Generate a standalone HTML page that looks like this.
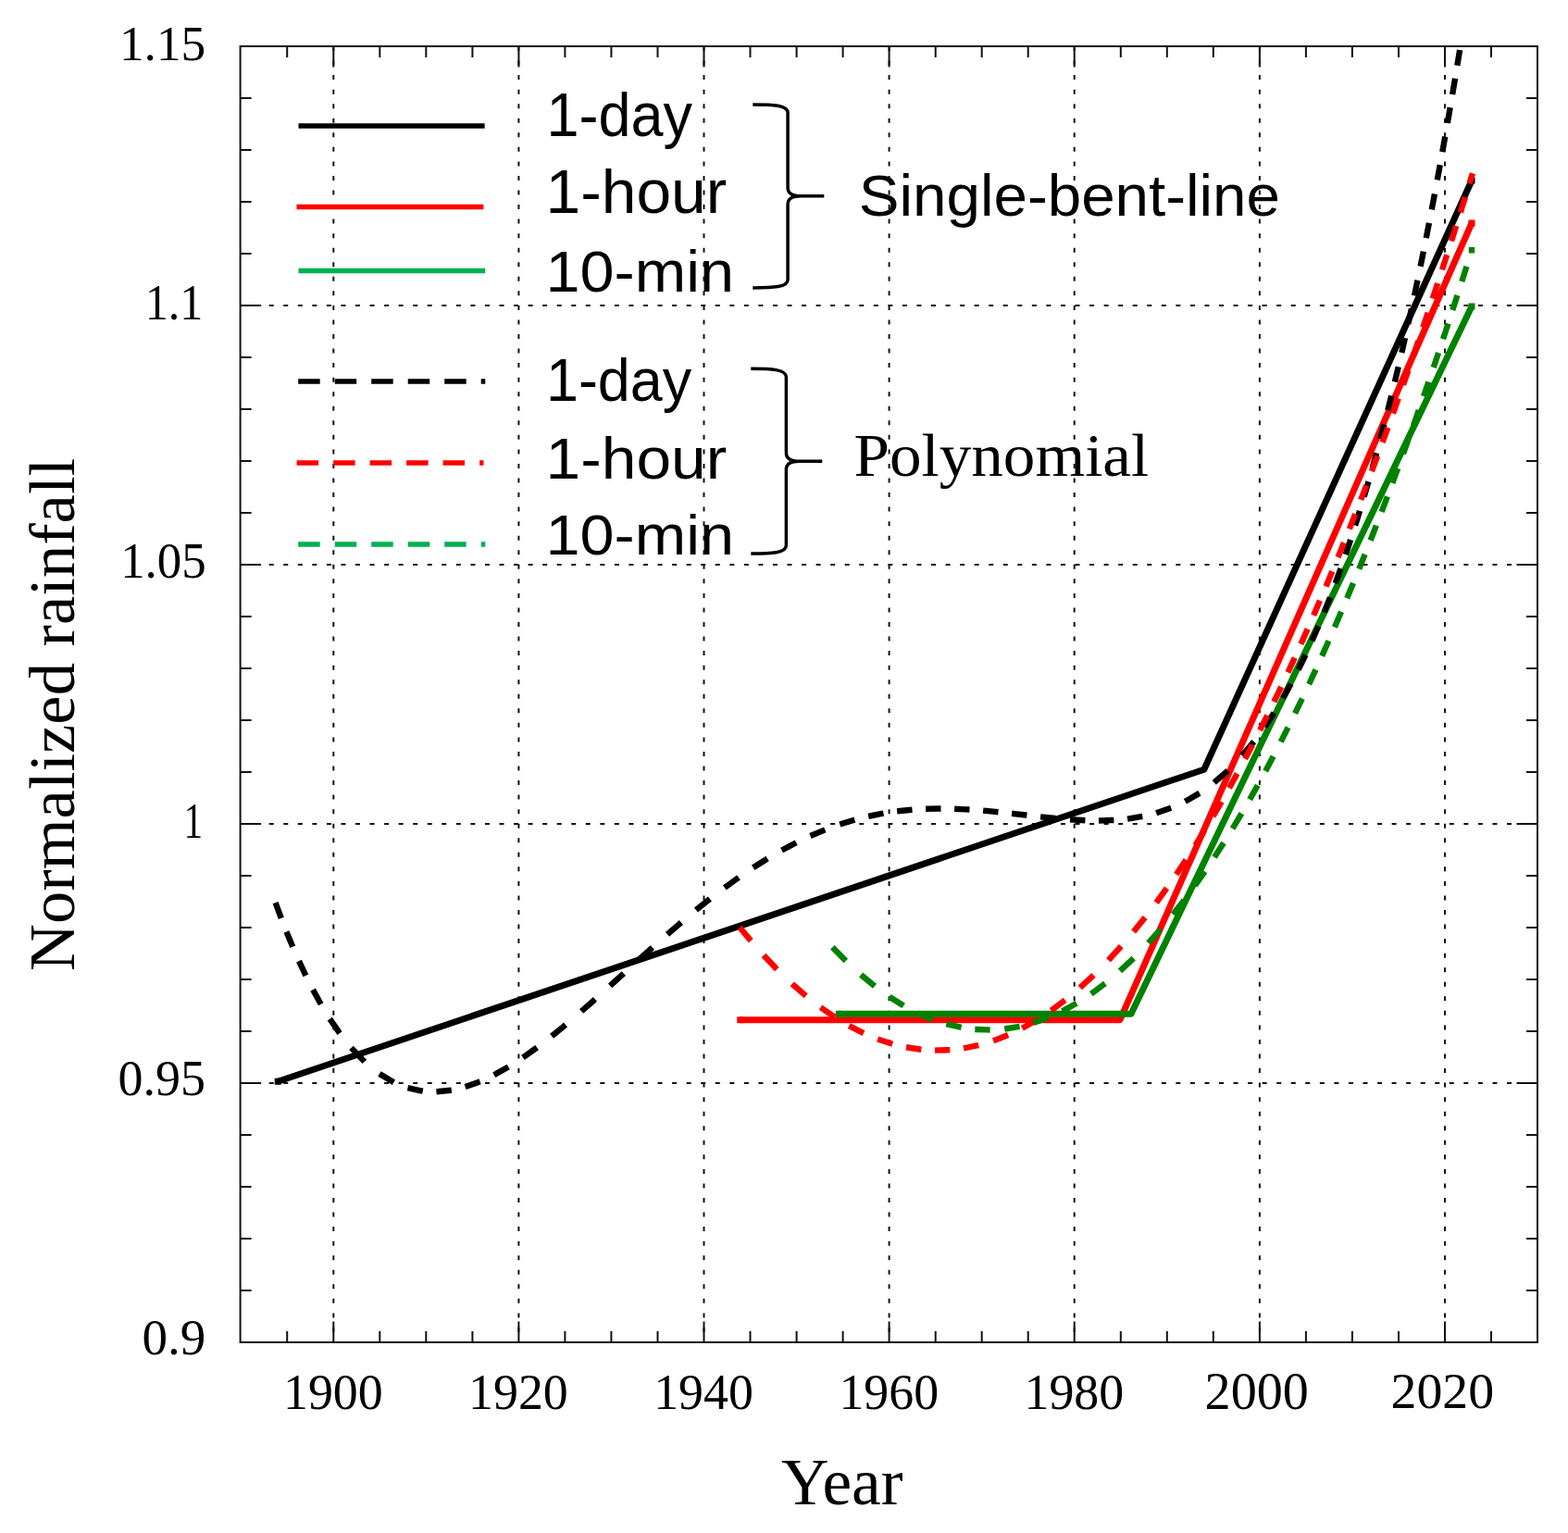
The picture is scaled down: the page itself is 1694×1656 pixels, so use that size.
<!DOCTYPE html><html><head><meta charset="utf-8"><style>html,body{margin:0;padding:0;background:#fff;overflow:hidden}svg{display:block}</style></head><body>
<svg width="1694" height="1656" viewBox="0 0 1694 1656">
<rect width="1694" height="1656" fill="#fff"/>
<g>
<path d="M360.3 50.0V1450.0M560.4 50.0V1450.0M760.5 50.0V1450.0M960.6 50.0V1450.0M1160.7 50.0V1450.0M1360.9 50.0V1450.0M1561.0 50.0V1450.0M259.6 330.0H1661.0M259.6 610.0H1661.0M259.6 890.0H1661.0M259.6 1170.0H1661.0" stroke="#111" stroke-width="2" stroke-dasharray="5 10.55" fill="none"/>
<defs><clipPath id="pc"><rect x="259.6" y="50.0" width="1401.4" height="1400.0"/></clipPath></defs>
<g clip-path="url(#pc)">
<path d="M296.70 1164.80h7.0v7.0h-7.0ZM1586.50 191.50h7.0v7.0h-7.0Z" fill="#000"/>
<path d="M300.20 1168.30L1300.80 831.20L1590.00 195.00" fill="none" stroke="#000" stroke-width="7.0" stroke-linecap="butt" stroke-linejoin="round"/>
<path d="M796.30 1098.20h7.0v7.0h-7.0ZM1586.50 237.50h7.0v7.0h-7.0Z" fill="#ff0000"/>
<path d="M799.80 1101.70L1210.00 1101.70L1590.00 241.00" fill="none" stroke="#ff0000" stroke-width="7.0" stroke-linecap="butt" stroke-linejoin="round"/>
<path d="M902.80 1091.70h7.0v7.0h-7.0ZM1586.50 327.50h7.0v7.0h-7.0Z" fill="#008200"/>
<path d="M906.30 1095.20L1222.00 1095.20L1590.00 331.00" fill="none" stroke="#008200" stroke-width="7.0" stroke-linecap="butt" stroke-linejoin="round"/>
<path d="M298.70 978.24L302.70 988.99M310.69 1009.39L315.02 1019.86M324.35 1041.04L329.02 1050.95M339.68 1071.96L345.17 1081.92M358.17 1103.22L365.16 1113.43M381.65 1134.17L391.65 1144.60M412.64 1161.62L422.63 1167.56M443.62 1175.88L453.62 1178.01M474.60 1179.02L484.60 1177.99M505.59 1173.00L515.58 1169.41M536.57 1159.62L546.56 1154.01M567.55 1140.54L577.55 1133.42M598.54 1117.27L608.53 1109.11M630.52 1090.35L640.51 1081.54M661.50 1062.71L671.50 1053.66M692.48 1034.67L702.48 1025.70M723.47 1007.17L733.46 998.56M754.45 981.05L764.45 973.03M785.43 956.97L795.43 949.74M816.42 935.49L826.41 929.19M847.40 917.00L857.39 911.73M878.38 901.77L888.38 897.58M910.37 889.60L920.36 886.53M941.35 881.21L951.34 879.20M972.33 876.03L982.33 874.99M1003.32 873.74L1013.31 873.55M1034.30 873.91L1044.29 874.39M1065.28 875.95L1075.28 876.89M1096.26 879.15L1106.26 880.29M1127.25 882.64L1137.24 883.67M1159.23 885.50L1169.22 886.04M1190.21 886.37L1200.21 886.04M1221.20 884.07L1231.19 882.42M1252.18 877.19L1262.17 873.73M1283.16 864.15L1293.16 858.36M1314.15 843.27L1324.14 834.56M1344.13 813.85L1352.62 803.61M1368.12 782.57L1374.61 772.78M1387.61 751.37L1393.10 741.55M1404.10 720.48L1409.09 710.24M1418.75 689.26L1423.09 679.32M1431.75 658.43L1435.75 648.32M1443.74 627.17L1447.41 617.07M1454.74 596.04L1458.07 586.12M1465.06 564.53L1468.06 554.95M1474.56 533.53L1477.56 523.32M1483.55 502.31L1486.30 492.40M1492.05 471.10L1494.55 461.60M1500.04 440.16L1502.44 430.56M1507.64 409.29L1510.04 399.25M1515.04 377.85L1517.23 368.22M1522.03 346.78L1524.23 336.75M1528.63 316.29L1530.83 305.87M1535.22 284.62L1537.22 274.78M1541.35 254.09L1543.35 243.91M1547.35 223.19L1549.35 212.65M1553.35 191.23L1555.18 181.26M1558.84 161.00L1560.68 150.72M1564.34 129.85L1566.17 119.26M1569.67 98.76L1571.50 87.86M1574.86 67.64L1576.57 57.17M1580.00 35.95L1580.00 35.95" fill="none" stroke="#000" stroke-width="6.4" stroke-linecap="square" stroke-linejoin="round"/>
<path d="M801.20 1004.19L809.20 1013.86M827.19 1034.26L837.19 1044.78M858.19 1064.95L868.18 1073.65M889.18 1090.03L899.18 1096.93M920.17 1109.51L930.17 1114.61M951.16 1123.42L961.16 1126.71M982.15 1131.75L992.15 1133.25M1013.15 1134.53L1023.14 1134.25M1044.14 1131.78L1054.14 1129.71M1076.13 1123.13L1086.13 1119.23M1107.12 1109.16L1117.12 1103.48M1138.11 1089.70L1148.11 1082.25M1169.11 1064.75L1179.10 1055.53M1199.60 1034.86L1209.10 1024.47M1226.59 1004.00L1235.09 993.43M1251.09 972.42L1258.58 962.08M1272.58 941.92L1279.58 931.42M1293.08 910.40L1299.57 899.91M1312.07 879.08L1318.07 868.77M1329.57 848.43L1335.06 838.45M1346.56 817.01L1351.56 807.47M1362.56 785.97L1367.72 775.63M1377.72 755.21L1382.72 744.79M1392.72 723.53L1397.38 713.41M1406.71 692.82L1411.38 682.35M1420.38 661.80L1424.71 651.74M1433.71 630.52L1438.04 620.15M1446.70 599.08L1450.70 589.21M1459.03 568.38L1463.03 558.24M1471.36 536.83L1475.03 527.29M1483.03 506.21L1487.03 495.54M1494.69 474.84L1498.36 464.83M1506.02 443.65L1509.69 433.40M1517.02 412.69L1520.35 403.17M1527.68 382.03L1531.35 371.34M1538.35 350.74L1541.68 340.83M1548.76 319.58L1552.26 308.98M1559.01 288.34L1562.26 278.31M1569.01 257.30L1572.25 247.09M1578.75 226.50L1582.00 216.12M1588.50 195.18L1590.00 190.32" fill="none" stroke="#ff0000" stroke-width="6.4" stroke-linecap="square" stroke-linejoin="round"/>
<path d="M901.60 1025.58L911.59 1035.76M932.57 1055.07L942.56 1063.28M963.55 1078.45L973.54 1084.68M994.52 1095.72L1004.51 1099.99M1025.49 1106.91L1035.48 1109.23M1056.47 1112.05L1066.46 1112.42M1088.44 1111.01L1098.43 1109.38M1119.41 1103.90L1129.40 1100.32M1150.38 1090.79L1160.37 1085.28M1181.36 1071.70L1191.35 1064.27M1212.33 1046.66L1222.32 1037.32M1242.80 1016.23L1251.79 1006.16M1269.28 985.15L1277.27 974.92M1292.76 953.98L1299.75 944.04M1313.74 923.26L1320.24 913.21M1333.22 892.33L1339.72 881.51M1351.71 860.85L1357.20 851.09M1368.69 830.08L1374.19 819.75M1385.18 798.54L1390.17 788.66M1400.50 767.76L1405.49 757.41M1415.49 736.27L1420.15 726.19M1429.47 705.65L1434.14 695.18M1443.13 674.62L1447.79 663.77M1456.45 643.27L1460.78 632.85M1469.44 611.68L1473.43 601.75M1481.76 580.76L1485.76 570.54M1493.75 549.81L1497.75 539.30M1505.41 518.90L1509.07 509.01M1517.06 487.17L1520.39 477.95M1528.05 456.51L1531.72 446.13M1539.04 425.13L1542.37 415.48M1549.70 394.01L1553.03 384.15M1560.03 363.22L1563.52 352.65M1570.27 332.06L1573.51 322.05M1580.26 301.05L1583.51 290.85M1590.00 270.25L1590.00 270.25" fill="none" stroke="#008200" stroke-width="6.4" stroke-linecap="square" stroke-linejoin="round"/>
</g>
<path d="M259.6 50.0H1661.0V1450.0H259.6ZM310.2 1450.0v-12.0M310.2 50.0v12.0M360.3 1450.0v-22.5M360.3 50.0v22.5M410.3 1450.0v-12.0M410.3 50.0v12.0M460.3 1450.0v-12.0M460.3 50.0v12.0M510.4 1450.0v-12.0M510.4 50.0v12.0M560.4 1450.0v-22.5M560.4 50.0v22.5M610.4 1450.0v-12.0M610.4 50.0v12.0M660.4 1450.0v-12.0M660.4 50.0v12.0M710.5 1450.0v-12.0M710.5 50.0v12.0M760.5 1450.0v-22.5M760.5 50.0v22.5M810.5 1450.0v-12.0M810.5 50.0v12.0M860.6 1450.0v-12.0M860.6 50.0v12.0M910.6 1450.0v-12.0M910.6 50.0v12.0M960.6 1450.0v-22.5M960.6 50.0v22.5M1010.7 1450.0v-12.0M1010.7 50.0v12.0M1060.7 1450.0v-12.0M1060.7 50.0v12.0M1110.7 1450.0v-12.0M1110.7 50.0v12.0M1160.7 1450.0v-22.5M1160.7 50.0v22.5M1210.8 1450.0v-12.0M1210.8 50.0v12.0M1260.8 1450.0v-12.0M1260.8 50.0v12.0M1310.8 1450.0v-12.0M1310.8 50.0v12.0M1360.9 1450.0v-22.5M1360.9 50.0v22.5M1410.9 1450.0v-12.0M1410.9 50.0v12.0M1460.9 1450.0v-12.0M1460.9 50.0v12.0M1511.0 1450.0v-12.0M1511.0 50.0v12.0M1561.0 1450.0v-22.5M1561.0 50.0v22.5M1611.0 1450.0v-12.0M1611.0 50.0v12.0M259.6 1394.0h12.0M1661.0 1394.0h-12.0M259.6 1338.0h12.0M1661.0 1338.0h-12.0M259.6 1282.0h12.0M1661.0 1282.0h-12.0M259.6 1226.0h12.0M1661.0 1226.0h-12.0M259.6 1170.0h22.5M1661.0 1170.0h-22.5M259.6 1114.0h12.0M1661.0 1114.0h-12.0M259.6 1058.0h12.0M1661.0 1058.0h-12.0M259.6 1002.0h12.0M1661.0 1002.0h-12.0M259.6 946.0h12.0M1661.0 946.0h-12.0M259.6 890.0h22.5M1661.0 890.0h-22.5M259.6 834.0h12.0M1661.0 834.0h-12.0M259.6 778.0h12.0M1661.0 778.0h-12.0M259.6 722.0h12.0M1661.0 722.0h-12.0M259.6 666.0h12.0M1661.0 666.0h-12.0M259.6 610.0h22.5M1661.0 610.0h-22.5M259.6 554.0h12.0M1661.0 554.0h-12.0M259.6 498.0h12.0M1661.0 498.0h-12.0M259.6 442.0h12.0M1661.0 442.0h-12.0M259.6 386.0h12.0M1661.0 386.0h-12.0M259.6 330.0h22.5M1661.0 330.0h-22.5M259.6 274.0h12.0M1661.0 274.0h-12.0M259.6 218.0h12.0M1661.0 218.0h-12.0M259.6 162.0h12.0M1661.0 162.0h-12.0M259.6 106.0h12.0M1661.0 106.0h-12.0" stroke="#111" stroke-width="2" fill="none"/>
<g fill="#000">
<text id="y115" x="128.90" y="65.20" style="font-family:'Liberation Serif',serif;font-size:53.28px" textLength="93.41" lengthAdjust="spacingAndGlyphs">1.15</text>
<text id="y110" x="156.80" y="344.70" style="font-family:'Liberation Serif',serif;font-size:55.82px" textLength="62.55" lengthAdjust="spacingAndGlyphs">1.1</text>
<text id="y105" x="130.20" y="623.70" style="font-family:'Liberation Serif',serif;font-size:54.31px" textLength="92.46" lengthAdjust="spacingAndGlyphs">1.05</text>
<text id="y100" x="198.50" y="904.70" style="font-family:'Liberation Serif',serif;font-size:55.82px" textLength="20.63" lengthAdjust="spacingAndGlyphs">1</text>
<text id="y095" x="127.60" y="1183.30" style="font-family:'Liberation Serif',serif;font-size:54.60px" textLength="94.40" lengthAdjust="spacingAndGlyphs">0.95</text>
<text id="y090" x="153.50" y="1463.30" style="font-family:'Liberation Serif',serif;font-size:54.60px" textLength="68.79" lengthAdjust="spacingAndGlyphs">0.9</text>
<text id="x1900" x="306.00" y="1522.20" style="font-family:'Liberation Serif',serif;font-size:54.60px" textLength="107.68" lengthAdjust="spacingAndGlyphs">1900</text>
<text id="x1920" x="506.10" y="1522.20" style="font-family:'Liberation Serif',serif;font-size:54.60px" textLength="107.68" lengthAdjust="spacingAndGlyphs">1920</text>
<text id="x1940" x="706.20" y="1522.20" style="font-family:'Liberation Serif',serif;font-size:54.60px" textLength="107.68" lengthAdjust="spacingAndGlyphs">1940</text>
<text id="x1960" x="906.40" y="1522.20" style="font-family:'Liberation Serif',serif;font-size:54.60px" textLength="107.68" lengthAdjust="spacingAndGlyphs">1960</text>
<text id="x1980" x="1106.50" y="1522.20" style="font-family:'Liberation Serif',serif;font-size:54.60px" textLength="107.68" lengthAdjust="spacingAndGlyphs">1980</text>
<text id="x2000" x="1301.60" y="1522.00" style="font-family:'Liberation Serif',serif;font-size:56.67px" textLength="112.20" lengthAdjust="spacingAndGlyphs">2000</text>
<text id="x2020" x="1502.50" y="1521.20" style="font-family:'Liberation Serif',serif;font-size:55.77px" textLength="111.68" lengthAdjust="spacingAndGlyphs">2020</text>
<text id="year" x="844.10" y="1625.20" style="font-family:'Liberation Serif',serif;font-size:72.90px" textLength="131.37" lengthAdjust="spacingAndGlyphs">Year</text>
<text id="l1" x="590.60" y="147.10" style="font-family:'Liberation Sans',sans-serif;font-size:66.12px" textLength="157.40" lengthAdjust="spacingAndGlyphs">1-day</text>
<text id="l2" x="589.60" y="230.40" style="font-family:'Liberation Sans',sans-serif;font-size:66.15px" textLength="195.63" lengthAdjust="spacingAndGlyphs">1-hour</text>
<text id="l3" x="589.60" y="314.60" style="font-family:'Liberation Sans',sans-serif;font-size:62.66px" textLength="203.32" lengthAdjust="spacingAndGlyphs">10-min</text>
<text id="l4" x="589.90" y="433.30" style="font-family:'Liberation Sans',sans-serif;font-size:65.12px" textLength="157.38" lengthAdjust="spacingAndGlyphs">1-day</text>
<text id="l5" x="589.60" y="516.80" style="font-family:'Liberation Sans',sans-serif;font-size:63.85px" textLength="195.63" lengthAdjust="spacingAndGlyphs">1-hour</text>
<text id="l6" x="589.60" y="599.40" style="font-family:'Liberation Sans',sans-serif;font-size:60.21px" textLength="203.32" lengthAdjust="spacingAndGlyphs">10-min</text>
<text id="sbl" x="927.80" y="233.30" style="font-family:'Liberation Sans',sans-serif;font-size:63.13px" textLength="455.18" lengthAdjust="spacingAndGlyphs">Single-bent-line</text>
<text id="poly" x="922.50" y="513.60" style="font-family:'Liberation Serif',serif;font-size:66.28px" textLength="318.76" lengthAdjust="spacingAndGlyphs">Polynomial</text>
<text transform="translate(79.9 771.9) rotate(-90)" text-anchor="middle" textLength="554.0" lengthAdjust="spacingAndGlyphs" style="font-family:'Liberation Serif',serif;font-size:70.3px">Normalized rainfall</text>
</g>
<path d="M322.5 136H523.6" stroke="#000" stroke-width="5.5"/>
<path d="M320.5 223.6H522.4" stroke="#ff0000" stroke-width="5.5"/>
<path d="M322.5 292.5H524.2" stroke="#00b050" stroke-width="5.5"/>
<path d="M322.2 412.1H524.3" stroke="#000" stroke-width="5.5" stroke-dasharray="23.5 16"/>
<path d="M320.6 500H522.5" stroke="#ff0000" stroke-width="5.5" stroke-dasharray="23.5 16"/>
<path d="M322.2 588H524.3" stroke="#00b050" stroke-width="5.5" stroke-dasharray="23.5 16"/>
<path d="M813.3 112.9 C835.3 112.9 851.1 113.4 851.1 121.9 L851.1 202.8 C851.1 208.8 855.1 211.8 865.1 211.8 L890.3 211.8 M865.1 211.8 C855.1 211.8 851.1 214.8 851.1 220.8 L851.1 301.9 C851.1 310.4 835.3 310.9 813.3 310.9" stroke="#000" stroke-width="3.5" fill="none"/>
<path d="M811.3 398.3 C833.3 398.3 849.4 398.8 849.4 407.3 L849.4 489.3 C849.4 495.3 853.4 498.3 863.4 498.3 L888.3 498.3 M863.4 498.3 C853.4 498.3 849.4 501.3 849.4 507.3 L849.4 589.1 C849.4 597.6 833.3 598.1 811.3 598.1" stroke="#000" stroke-width="3.5" fill="none"/>
</g>
</svg></body></html>
